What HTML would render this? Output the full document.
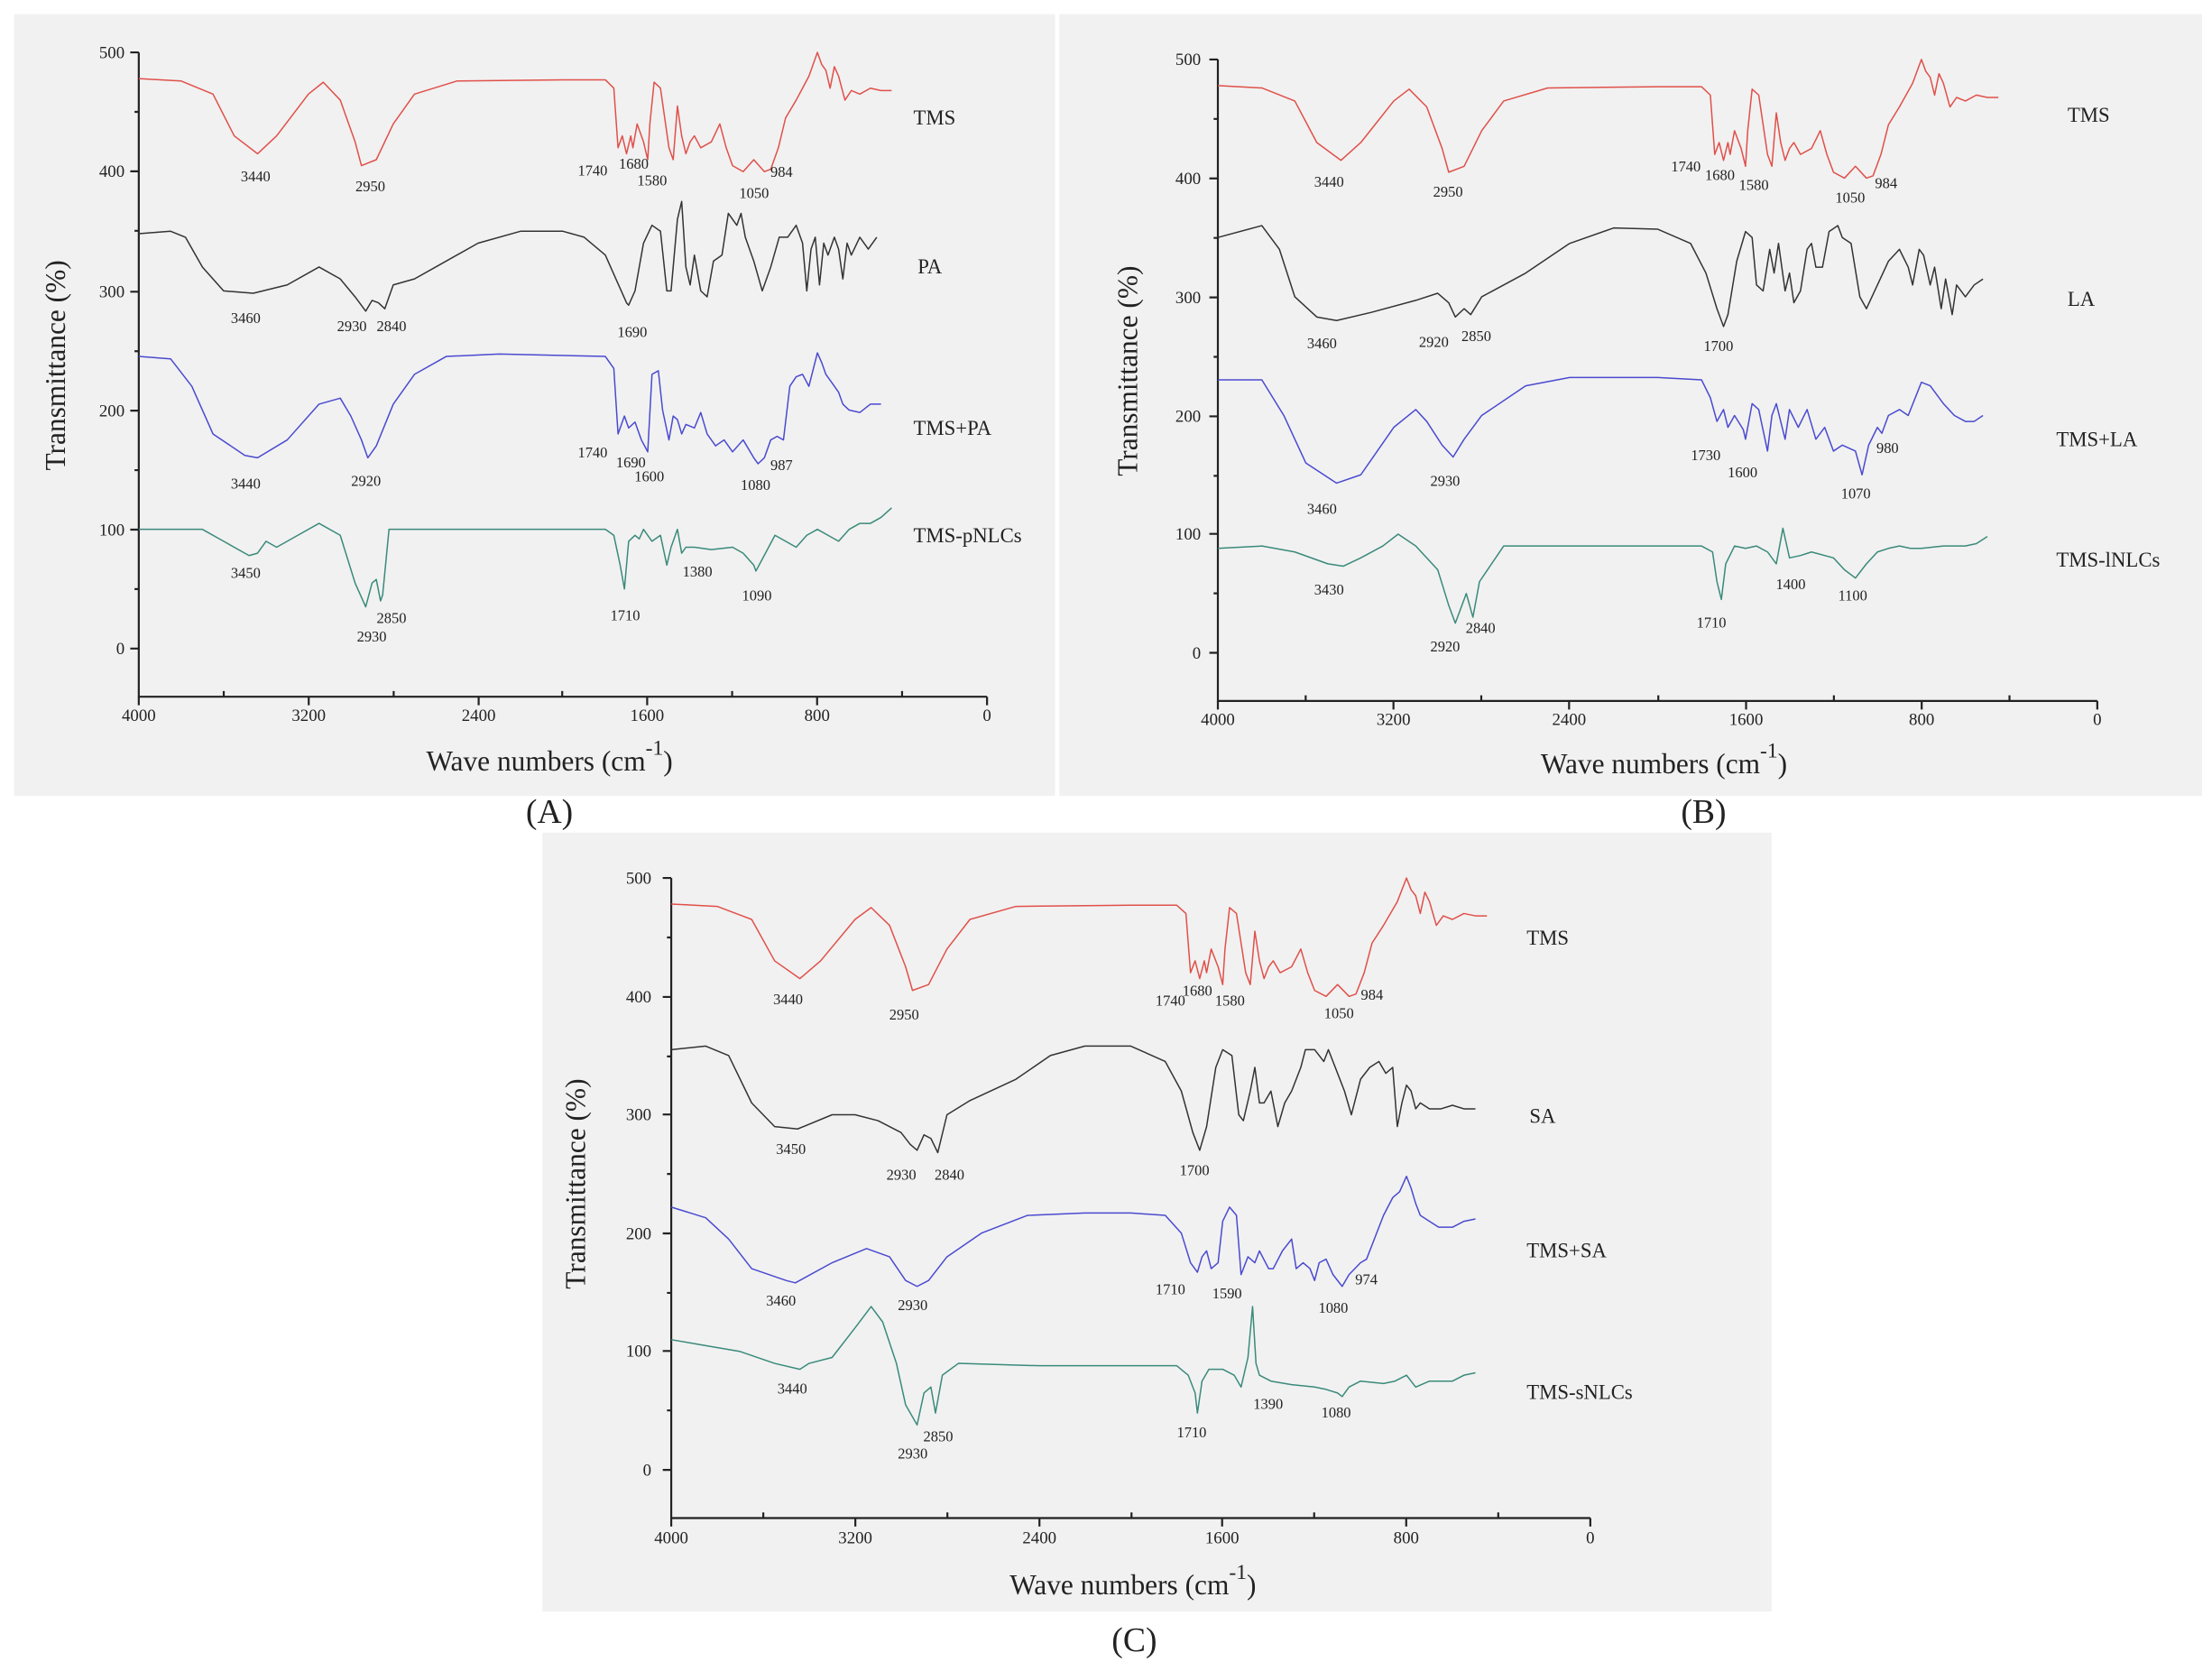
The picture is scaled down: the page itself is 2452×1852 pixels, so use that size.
<!DOCTYPE html>
<html><head><meta charset="utf-8"><style>
html,body{margin:0;padding:0;background:#fff}
svg{display:block}
text{font-family:"Liberation Serif",serif;fill:#222}
.t{font-size:12px}
.p{font-size:10.5px}
.s{font-size:14.5px}
.ax{font-size:20px}
.pl{font-size:24px}
path.c{fill:none;stroke-width:1.5;vector-effect:non-scaling-stroke;stroke-linejoin:round}
.a{stroke:#222;stroke-width:1.4;fill:none}
</style></head><body>
<svg width="2452" height="1852" viewBox="0 0 1562 1180" preserveAspectRatio="none" xmlns="http://www.w3.org/2000/svg">
<rect x="10" y="10" width="735" height="552" fill="#f1f1f1"/>
<rect x="748" y="10" width="807" height="552" fill="#f1f1f1"/>
<rect x="383" y="588" width="868" height="550" fill="#f1f1f1"/>

<!-- ============ PANEL A ============ -->
<g>
<path class="a" d="M98,37 V492 H697"/>
<path class="a" d="M98,37h-6M98,121h-6M98,206h-6M98,290h-6M98,374h-6M98,458h-6M98,79h-3M98,163h-3M98,248h-3M98,332h-3M98,416h-3"/>
<path class="a" d="M98,492v6M158,492v-4M218,492v6M278,492v-4M338,492v6M397,492v-4M457,492v6M517,492v-4M577,492v6M637,492v-4M697,492v6"/>
<text class="t" x="88" y="41" text-anchor="end">500</text>
<text class="t" x="88" y="125" text-anchor="end">400</text>
<text class="t" x="88" y="210" text-anchor="end">300</text>
<text class="t" x="88" y="294" text-anchor="end">200</text>
<text class="t" x="88" y="378" text-anchor="end">100</text>
<text class="t" x="88" y="462" text-anchor="end">0</text>
<text class="t" x="98" y="509" text-anchor="middle">4000</text>
<text class="t" x="218" y="509" text-anchor="middle">3200</text>
<text class="t" x="338" y="509" text-anchor="middle">2400</text>
<text class="t" x="457" y="509" text-anchor="middle">1600</text>
<text class="t" x="577" y="509" text-anchor="middle">800</text>
<text class="t" x="697" y="509" text-anchor="middle">0</text>
<text class="ax" transform="translate(46,258) rotate(-90)" text-anchor="middle">Transmittance (%)</text>
<text class="ax" x="388" y="544" text-anchor="middle">Wave numbers (cm<tspan font-size="15" dy="-11">-1</tspan><tspan dy="11">)</tspan></text>
<text class="pl" x="388" y="581" text-anchor="middle">(A)</text>
<text class="s" x="645" y="88">TMS</text>
<text class="s" x="648" y="193">PA</text>
<text class="s" x="645" y="307">TMS+PA</text>
<text class="s" x="645" y="383">TMS-pNLCs</text>
<g transform="matrix(-0.14975 0 0 -0.842 697 458)">
<path class="c" stroke="#e0504a" d="M4000,478L3800,476L3650,465L3550,430L3440,415L3350,430L3200,465L3130,475L3050,460L2980,425L2950,405L2880,410L2800,440L2700,465L2500,476L2000,477L1800,477L1760,470L1740,420L1720,430L1700,415L1680,430L1670,420L1650,440L1620,425L1600,410L1590,440L1570,475L1540,470L1500,420L1480,410L1460,455L1440,430L1420,415L1400,425L1380,430L1350,420L1300,425L1260,440L1230,420L1200,405L1150,400L1100,410L1050,400L1020,402L984,420L950,445L900,460L870,470L840,480L800,500L780,490L760,485L740,470L720,488L700,480L670,460L640,468L600,465L550,470L500,468L450,468"/>
<path class="c" stroke="#333" d="M4000,348L3850,350L3780,345L3700,320L3600,300L3460,298L3300,305L3150,320L3050,310L2980,295L2930,283L2900,292L2870,290L2840,285L2800,305L2700,310L2600,320L2400,340L2200,350L2000,350L1900,345L1800,330L1750,310L1700,290L1690,288L1660,300L1620,340L1580,355L1540,350L1510,300L1490,300L1460,360L1440,375L1420,320L1400,305L1380,330L1350,300L1320,295L1290,325L1250,330L1220,365L1200,360L1180,355L1160,365L1140,345L1100,325L1060,300L1020,320L980,345L940,345L900,355L870,340L850,300L830,335L810,345L790,305L770,340L750,330L720,345L700,335L680,310L660,340L640,330L600,345L560,335L520,345"/>
<path class="c" stroke="#4a4ad0" d="M4000,245L3850,243L3750,220L3650,180L3500,162L3440,160L3300,175L3150,205L3050,210L3000,195L2950,175L2920,160L2880,170L2800,205L2700,230L2550,245L2300,247L1800,245L1760,235L1740,180L1710,195L1690,185L1660,190L1630,175L1600,165L1580,230L1550,233L1530,200L1500,175L1480,195L1460,192L1440,180L1420,188L1380,185L1350,198L1320,180L1280,170L1240,175L1200,165L1150,175L1100,160L1080,155L1050,160L1020,175L990,178L960,175L930,220L900,228L870,230L840,220L800,248L780,240L760,230L740,225L700,215L680,205L650,200L600,198L550,205L500,205"/>
<path class="c" stroke="#3a8a7a" d="M4000,100L3700,100L3600,90L3480,78L3440,80L3400,90L3350,85L3250,95L3150,105L3050,95L2980,55L2930,35L2900,55L2880,58L2860,40L2850,45L2820,100L2700,100L2000,100L1800,100L1760,95L1730,70L1710,50L1690,90L1660,95L1640,92L1620,100L1580,90L1540,95L1510,70L1490,85L1460,100L1440,80L1420,85L1380,85L1300,83L1200,85L1150,80L1100,70L1090,65L1060,75L1000,95L950,90L900,85L850,95L800,100L750,95L700,90L650,100L600,105L550,105L500,110L450,118"/>
</g>
<g class="p">
<text x="170" y="128">3440</text><text x="251" y="135">2950</text><text x="408" y="124">1740</text><text x="437" y="119">1680</text><text x="450" y="131">1580</text><text x="522" y="140">1050</text><text x="544" y="125">984</text>
<text x="163" y="228">3460</text><text x="238" y="234">2930</text><text x="266" y="234">2840</text><text x="436" y="238">1690</text>
<text x="163" y="345">3440</text><text x="248" y="343">2920</text><text x="408" y="323">1740</text><text x="435" y="330">1690</text><text x="448" y="340">1600</text><text x="523" y="346">1080</text><text x="544" y="332">987</text>
<text x="163" y="408">3450</text><text x="266" y="440">2850</text><text x="252" y="453">2930</text><text x="431" y="438">1710</text><text x="482" y="407">1380</text><text x="524" y="424">1090</text>
</g>
</g>

<!-- ============ PANEL B ============ -->
<g>
<path class="a" d="M860,42 V495 H1481"/>
<path class="a" d="M860,42h-6M860,126h-6M860,210h-6M860,294h-6M860,377h-6M860,461h-6M860,84h-3M860,168h-3M860,252h-3M860,336h-3M860,419h-3"/>
<path class="a" d="M860,495v6M922,495v-4M984,495v6M1046,495v-4M1108,495v6M1171,495v-4M1233,495v6M1295,495v-4M1357,495v6M1419,495v-4M1481,495v6"/>
<text class="t" x="848" y="46" text-anchor="end">500</text>
<text class="t" x="848" y="130" text-anchor="end">400</text>
<text class="t" x="848" y="214" text-anchor="end">300</text>
<text class="t" x="848" y="298" text-anchor="end">200</text>
<text class="t" x="848" y="381" text-anchor="end">100</text>
<text class="t" x="848" y="465" text-anchor="end">0</text>
<text class="t" x="860" y="512" text-anchor="middle">4000</text>
<text class="t" x="984" y="512" text-anchor="middle">3200</text>
<text class="t" x="1108" y="512" text-anchor="middle">2400</text>
<text class="t" x="1233" y="512" text-anchor="middle">1600</text>
<text class="t" x="1357" y="512" text-anchor="middle">800</text>
<text class="t" x="1481" y="512" text-anchor="middle">0</text>
<text class="ax" transform="translate(803,262) rotate(-90)" text-anchor="middle">Transmittance (%)</text>
<text class="ax" x="1175" y="546" text-anchor="middle">Wave numbers (cm<tspan font-size="15" dy="-11">-1</tspan><tspan dy="11">)</tspan></text>
<text class="pl" x="1203" y="581" text-anchor="middle">(B)</text>
<text class="s" x="1460" y="86">TMS</text>
<text class="s" x="1460" y="216">LA</text>
<text class="s" x="1452" y="315">TMS+LA</text>
<text class="s" x="1452" y="400">TMS-lNLCs</text>
<g transform="matrix(-0.15525 0 0 -0.838 1481 461)">
<path class="c" stroke="#e0504a" d="M4000,478L3800,476L3650,465L3550,430L3440,415L3350,430L3200,465L3130,475L3050,460L2980,425L2950,405L2880,410L2800,440L2700,465L2500,476L2000,477L1800,477L1760,470L1740,420L1720,430L1700,415L1680,430L1670,420L1650,440L1620,425L1600,410L1590,440L1570,475L1540,470L1500,420L1480,410L1460,455L1440,430L1420,415L1400,425L1380,430L1350,420L1300,425L1260,440L1230,420L1200,405L1150,400L1100,410L1050,400L1020,402L984,420L950,445L900,460L870,470L840,480L800,500L780,490L760,485L740,470L720,488L700,480L670,460L640,468L600,465L550,470L500,468L450,468"/>
<path class="c" stroke="#333" d="M4000,350L3800,360L3720,340L3650,300L3550,283L3460,280L3300,287L3100,297L3000,303L2950,295L2920,283L2880,290L2850,285L2800,300L2600,320L2400,345L2200,358L2000,357L1850,345L1780,320L1730,290L1700,275L1680,285L1640,330L1600,355L1570,350L1550,310L1520,305L1490,340L1470,320L1450,345L1420,305L1400,320L1380,295L1350,305L1320,340L1300,345L1280,325L1250,325L1220,355L1180,360L1160,350L1120,345L1080,300L1050,290L1000,310L950,330L900,340L860,325L840,310L810,340L790,335L760,310L740,325L710,290L690,315L660,285L640,310L600,300L560,310L520,315"/>
<path class="c" stroke="#4a4ad0" d="M4000,230L3800,230L3700,200L3600,160L3460,143L3350,150L3200,190L3100,205L3050,195L2980,175L2930,165L2880,180L2800,200L2600,225L2400,232L2000,232L1800,230L1760,215L1730,195L1700,205L1680,190L1650,200L1610,188L1600,180L1570,210L1540,205L1500,170L1480,200L1460,210L1420,180L1400,205L1360,190L1320,205L1280,180L1240,190L1200,170L1160,175L1100,170L1070,150L1040,175L1000,190L980,185L950,200L900,205L860,200L800,228L760,225L740,220L700,210L650,200L600,195L560,195L520,200"/>
<path class="c" stroke="#3a8a7a" d="M4000,88L3800,90L3650,85L3500,75L3430,73L3350,80L3250,90L3180,100L3100,90L3000,70L2950,40L2920,25L2900,35L2870,50L2840,30L2810,60L2700,90L2500,90L2000,90L1800,90L1750,85L1730,60L1710,45L1690,75L1650,90L1600,88L1550,90L1500,85L1460,75L1430,105L1400,80L1350,82L1300,85L1200,80L1150,70L1100,63L1050,75L1000,85L950,88L900,90L850,88L800,88L700,90L600,90L550,92L500,98"/>
</g>
<g class="p">
<text x="928" y="132">3440</text><text x="1012" y="139">2950</text><text x="1180" y="121">1740</text><text x="1204" y="127">1680</text><text x="1228" y="134">1580</text><text x="1296" y="143">1050</text><text x="1324" y="133">984</text>
<text x="923" y="246">3460</text><text x="1002" y="245">2920</text><text x="1032" y="241">2850</text><text x="1203" y="248">1700</text>
<text x="1194" y="325">1730</text><text x="1220" y="337">1600</text><text x="1325" y="320">980</text><text x="1300" y="352">1070</text><text x="1010" y="343">2930</text><text x="923" y="363">3460</text>
<text x="928" y="420">3430</text><text x="1035" y="447">2840</text><text x="1010" y="460">2920</text><text x="1198" y="443">1710</text><text x="1254" y="416">1400</text><text x="1298" y="424">1100</text>
</g>
</g>

<!-- ============ PANEL C ============ -->
<g>
<path class="a" d="M474,620 V1072 H1123"/>
<path class="a" d="M474,620h-6M474,704h-6M474,787h-6M474,871h-6M474,954h-6M474,1038h-6M474,662h-3M474,746h-3M474,829h-3M474,913h-3M474,996h-3"/>
<path class="a" d="M474,1072v6M539,1072v-4M604,1072v6M669,1072v-4M734,1072v6M799,1072v-4M863,1072v6M928,1072v-4M993,1072v6M1058,1072v-4M1123,1072v6"/>
<text class="t" x="460" y="624" text-anchor="end">500</text>
<text class="t" x="460" y="708" text-anchor="end">400</text>
<text class="t" x="460" y="791" text-anchor="end">300</text>
<text class="t" x="460" y="875" text-anchor="end">200</text>
<text class="t" x="460" y="958" text-anchor="end">100</text>
<text class="t" x="460" y="1042" text-anchor="end">0</text>
<text class="t" x="474" y="1090" text-anchor="middle">4000</text>
<text class="t" x="604" y="1090" text-anchor="middle">3200</text>
<text class="t" x="734" y="1090" text-anchor="middle">2400</text>
<text class="t" x="863" y="1090" text-anchor="middle">1600</text>
<text class="t" x="993" y="1090" text-anchor="middle">800</text>
<text class="t" x="1123" y="1090" text-anchor="middle">0</text>
<text class="ax" transform="translate(413,836) rotate(-90)" text-anchor="middle">Transmittance (%)</text>
<text class="ax" x="800" y="1126" text-anchor="middle">Wave numbers (cm<tspan font-size="15" dy="-11">-1</tspan><tspan dy="11">)</tspan></text>
<text class="pl" x="801" y="1166" text-anchor="middle">(C)</text>
<text class="s" x="1078" y="667">TMS</text>
<text class="s" x="1080" y="793">SA</text>
<text class="s" x="1078" y="888">TMS+SA</text>
<text class="s" x="1078" y="988">TMS-sNLCs</text>
<g transform="matrix(-0.16225 0 0 -0.836 1123 1038)">
<path class="c" stroke="#e0504a" d="M4000,478L3800,476L3650,465L3550,430L3440,415L3350,430L3200,465L3130,475L3050,460L2980,425L2950,405L2880,410L2800,440L2700,465L2500,476L2000,477L1800,477L1760,470L1740,420L1720,430L1700,415L1680,430L1670,420L1650,440L1620,425L1600,410L1590,440L1570,475L1540,470L1500,420L1480,410L1460,455L1440,430L1420,415L1400,425L1380,430L1350,420L1300,425L1260,440L1230,420L1200,405L1150,400L1100,410L1050,400L1020,402L984,420L950,445L900,460L870,470L840,480L800,500L780,490L760,485L740,470L720,488L700,480L670,460L640,468L600,465L550,470L500,468L450,468"/>
<path class="c" stroke="#333" d="M4000,355L3850,358L3750,350L3650,310L3550,290L3450,288L3300,300L3200,300L3100,295L3000,285L2960,275L2930,270L2900,283L2870,280L2840,268L2800,300L2700,312L2500,330L2350,350L2200,358L2000,358L1850,345L1780,320L1730,285L1700,270L1670,290L1630,340L1600,355L1560,350L1530,300L1510,295L1480,320L1460,340L1440,310L1420,310L1390,320L1360,290L1330,310L1300,320L1260,340L1240,355L1200,355L1160,345L1140,355L1100,335L1070,320L1040,300L1000,330L960,340L920,345L890,335L860,340L840,290L820,310L800,325L780,320L760,305L740,310L700,305L650,305L600,308L550,305L500,305"/>
<path class="c" stroke="#4a4ad0" d="M4000,222L3850,213L3750,195L3650,170L3500,160L3460,158L3300,175L3150,187L3050,180L2980,160L2930,155L2880,160L2800,180L2650,200L2450,215L2200,217L2000,217L1850,215L1780,200L1740,175L1710,167L1690,180L1670,185L1650,170L1620,175L1600,210L1570,222L1540,215L1520,165L1490,180L1460,175L1440,185L1400,170L1380,170L1340,185L1300,195L1280,170L1250,175L1220,170L1200,160L1180,175L1150,178L1120,165L1080,155L1050,165L1000,175L974,178L950,190L900,215L860,230L830,235L800,248L780,238L760,225L740,215L700,210L660,205L600,205L550,210L500,212"/>
<path class="c" stroke="#3a8a7a" d="M4000,110L3850,105L3700,100L3550,90L3440,85L3400,90L3300,95L3200,120L3130,138L3080,125L3020,90L2980,55L2930,38L2900,65L2870,70L2850,48L2820,80L2750,90L2400,88L2000,88L1800,88L1750,80L1720,65L1710,48L1690,75L1660,85L1600,85L1550,80L1520,70L1490,95L1470,138L1455,90L1440,80L1390,75L1300,72L1200,70L1150,68L1100,65L1080,62L1050,70L1000,75L900,73L850,75L800,80L760,70L700,75L600,75L550,80L500,82"/>
</g>
<g class="p">
<text x="546" y="709">3440</text><text x="628" y="720">2950</text><text x="816" y="710">1740</text><text x="835" y="703">1680</text><text x="858" y="710">1580</text><text x="935" y="719">1050</text><text x="961" y="706">984</text>
<text x="548" y="815">3450</text><text x="626" y="833">2930</text><text x="660" y="833">2840</text><text x="833" y="830">1700</text>
<text x="541" y="922">3460</text><text x="634" y="925">2930</text><text x="816" y="914">1710</text><text x="856" y="917">1590</text><text x="931" y="927">1080</text><text x="957" y="907">974</text>
<text x="549" y="984">3440</text><text x="652" y="1018">2850</text><text x="634" y="1030">2930</text><text x="831" y="1015">1710</text><text x="885" y="995">1390</text><text x="933" y="1001">1080</text>
</g>
</g>
</svg>
</body></html>
